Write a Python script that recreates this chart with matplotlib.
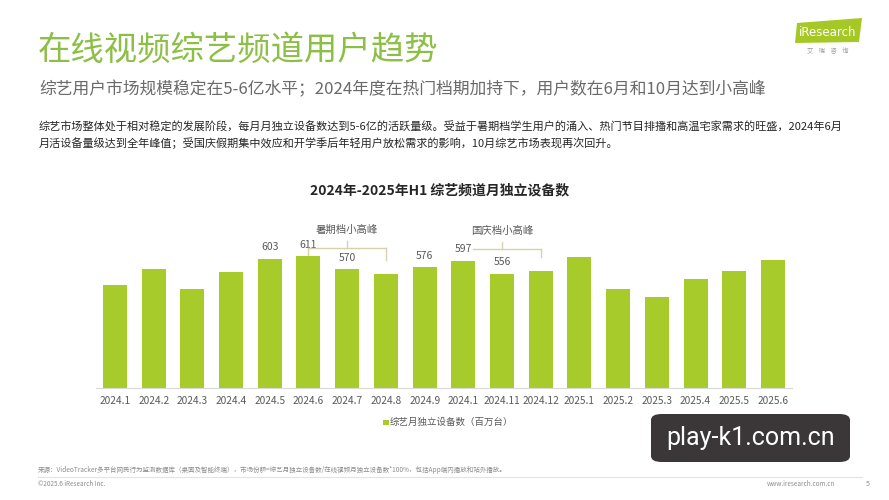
import matplotlib
matplotlib.use("Agg")
import matplotlib.pyplot as plt
from matplotlib.patches import Polygon, FancyBboxPatch, Rectangle

plt.rcParams['font.family'] = ['Noto Sans CJK SC', 'DejaVu Sans']

# ---------------- data ----------------
months = ["2024.1", "2024.2", "2024.3", "2024.4", "2024.5", "2024.6", "2024.7",
          "2024.8", "2024.9", "2024.1", "2024.11", "2024.12", "2025.1", "2025.2",
          "2025.3", "2025.4", "2025.5", "2025.6"]
devices = [519, 571, 506, 561, 603, 611, 570, 555, 576, 597, 556, 564,
           608, 507, 481, 540, 563, 598]
labeled_idx = [4, 5, 6, 8, 9, 10]
series_name = "综艺月独立设备数（百万台）"
chart_title = "2024年-2025年H1 综艺频道月独立设备数"
peak_labels = ["暑期档小高峰", "国庆档小高峰"]
peak_spans = [(5, 7), (9, 11)]

W, H = 889, 500
fig = plt.figure(figsize=(W / 100, H / 100), dpi=100)
fig.patch.set_facecolor("white")

def fx(x):
    return x / W

def fy(y):
    return 1 - y / H

BAR = "#a8cb2c"
GREEN_T = "#8cbf45"
BR = "#d6d2ad"

# ---------------- header text ----------------
fig.text(fx(38), fy(50), "在线视频综艺频道用户趋势", fontsize=24, color=GREEN_T,
         va="center", ha="left", weight="light")
fig.text(fx(39), fy(90), "综艺用户市场规模稳定在5-6亿水平；2024年度在热门档期加持下，用户数在6月和10月达到小高峰",
         fontsize=12.1, color="#6a6a6a", va="center", ha="left", weight="light")
fig.text(fx(39), fy(127),
         "综艺市场整体处于相对稳定的发展阶段，每月月独立设备数达到5-6亿的活跃量级。受益于暑期档学生用户的涌入、热门节目排播和高温宅家需求的旺盛，2024年6月",
         fontsize=8.0, color="#262626", va="center", ha="left")
fig.text(fx(39), fy(143),
         "月活设备量级达到全年峰值；受国庆假期集中效应和开学季后年轻用户放松需求的影响，10月综艺市场表现再次回升。",
         fontsize=8.0, color="#262626", va="center", ha="left")

# logo
logo = Polygon([[fx(797), fy(23)], [fx(862), fy(18)], [fx(859), fy(42)], [fx(795), fy(43)]],
               closed=True, transform=fig.transFigure, facecolor="#a5c825", edgecolor="none")
fig.patches.append(logo)
fig.text(fx(828), fy(32), "iResearch", fontsize=8.5, color="white", ha="center", va="center",
         family="DejaVu Sans")
fig.text(fx(828), fy(51), "艾    瑞    咨    询", fontsize=4.5, color="#9a9a9a", ha="center", va="center")

# chart title
fig.text(fx(440), fy(190), chart_title, fontsize=10, weight="bold", color="#262626",
         ha="center", va="center")

# ---------------- axes ----------------
n = len(months)
left_px, right_px = 95.6, 792.3
bottom_px, top_px = 387.5, 230.0
ymin = 197.0
upp = 3.15  # value units per pixel
ymax = ymin + (bottom_px - top_px) * upp

ax = fig.add_axes([fx(left_px), fy(bottom_px), (right_px - left_px) / W, (bottom_px - top_px) / H])
ax.set_xlim(-0.5, n - 0.5)
ax.set_ylim(ymin, ymax)
x = list(range(n))
ax.bar(x, devices, width=0.62, color=BAR, bottom=0, zorder=2)
for s in ["top", "right", "left"]:
    ax.spines[s].set_visible(False)
ax.spines["bottom"].set_color("#d9d9d9")
ax.spines["bottom"].set_linewidth(0.8)
ax.set_yticks([])
ax.set_xticks(x)
ax.set_xticklabels(months, fontsize=7.3, color="#595959")
ax.tick_params(axis="x", length=0, pad=6)
ax.patch.set_alpha(0)

for i in labeled_idx:
    ax.text(i, devices[i] + 36, str(devices[i]), ha="center", va="center",
            fontsize=7.5, color="#595959", clip_on=False)

# brackets
def bracket(i0, i1, level, label, left_gap=0.0):
    mid = (i0 + i1) / 2
    kw = dict(color=BR, lw=1.0, clip_on=False, zorder=3)
    ax.plot([i0 + left_gap, i1], [level, level], **kw)
    if left_gap == 0:
        ax.plot([i0, i0], [level, devices[i0] + 2], **kw)
    ax.plot([i1, i1], [level, devices[i1] + 45], **kw)
    ax.plot([mid, mid], [level, level + 22], **kw)
    ax.text(mid, level + 58, label, ha="center", va="center", fontsize=7.5,
            color="#595959", clip_on=False)

bracket(peak_spans[0][0], peak_spans[0][1], 636, peak_labels[0])
bracket(peak_spans[1][0], peak_spans[1][1], 633, peak_labels[1], left_gap=0.25)

# legend
fig.patches.append(Rectangle((fx(383), fy(425)), 5.5 / W, 5.5 / H, transform=fig.transFigure,
                             facecolor=BAR, edgecolor="none"))
fig.text(fx(390), fy(422), series_name, fontsize=6.8, color="#595959", ha="left", va="center")

# footer
fig.text(fx(38), fy(470),
         "来源：VideoTracker多平台网民行为监测数据库（桌面及智能终端），市场份额=综艺月独立设备数/在线视频月独立设备数*100%，包括App端内播放和站外播放。",
         fontsize=4.7, color="#8c8c8c", ha="left", va="center")
fig.lines.append(plt.Line2D([fx(38), fx(862)], [fy(477), fy(477)], transform=fig.transFigure,
                            color="#e3e3e3", lw=0.8))
fig.text(fx(38), fy(484), "©2025.6 iResearch Inc.", fontsize=4.6, color="#8c8c8c", ha="left", va="center")
fig.text(fx(835), fy(484), "www.iresearch.com.cn", fontsize=4.6, color="#8c8c8c", ha="right", va="center")
fig.text(fx(868), fy(484), "5", fontsize=5, color="#8c8c8c", ha="center", va="center")

# watermark
wm = FancyBboxPatch((fx(651), fy(462)), 199 / W, 48 / H, boxstyle="round,pad=0,rounding_size=0.012",
                    transform=fig.transFigure, facecolor="#3b3637", edgecolor="none")
fig.patches.append(wm)
fig.text(fx(751), fy(438), "play-k1.com.cn", fontsize=18, color="white", ha="center", va="center",
         family=["Roboto", "DejaVu Sans"])

fig.savefig("out.png", dpi=100, facecolor="white")
